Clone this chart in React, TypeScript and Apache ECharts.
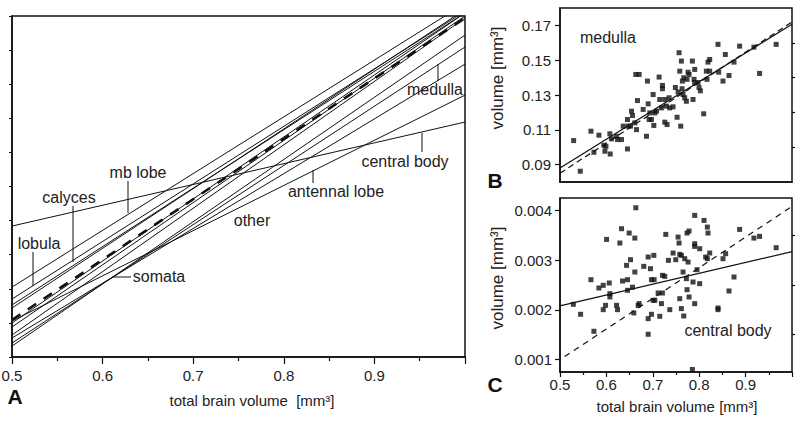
import React, { useEffect, useRef } from 'react';
import * as echarts from 'echarts';

// ---------- Panel A: allometric regression lines (arbitrary log units on y) ----------
const lineX = [0.5, 1.0];
const lineNames = [
  'central body', 'mb lobe', 'lobula', 'calyces', 'region 5', 'region 6',
  'isometry', 'antennal lobe', 'region 9', 'region 10', 'somata', 'medulla', 'other',
];
const lineStart = [3.84, 2.05, 1.7, 1.525, 1.437, 0.997, 1.085, 1.056, 0.88, 0.645, 0.557, 0.41, 0.32];
const lineEnd = [6.89, 10.37, 10.14, 10.09, 10.19, 10.09, 9.94, 7.68, 10.0, 9.94, 8.59, 9.09, 9.44];
const dashedName = 'isometry';

// ---------- Panel B: medulla ----------
const medullaX = [
  0.5294, 0.5437, 0.5667, 0.5731, 0.5839, 0.5946, 0.5968, 0.599, 0.6075, 0.6082,
  0.611, 0.6219, 0.624, 0.6326, 0.6362, 0.6455, 0.647, 0.6455, 0.6541, 0.6563,
  0.652, 0.6613, 0.6634, 0.6706, 0.667, 0.6649, 0.6792, 0.6864, 0.6885, 0.69,
  0.6921, 0.6935, 0.6971, 0.7007, 0.7022, 0.7043, 0.7079, 0.7136, 0.715, 0.7208,
  0.7208, 0.7186, 0.7258, 0.7258, 0.7308, 0.7294, 0.7366, 0.7351, 0.7437, 0.7487,
  0.7523, 0.7545, 0.7566, 0.7581, 0.7602, 0.7616, 0.7631, 0.7638, 0.7652, 0.7667,
  0.7688, 0.7724, 0.7738, 0.776, 0.7781, 0.7853, 0.7867, 0.7889, 0.7903, 0.7903,
  0.7975, 0.7996, 0.8025, 0.8097, 0.8154, 0.8168, 0.819, 0.8226, 0.8226, 0.8405,
  0.8419, 0.8513, 0.8563, 0.8642, 0.875, 0.8871, 0.9179, 0.9301, 0.9659,
];
const medullaY = [
  0.1038, 0.0862, 0.1092, 0.0971, 0.1069, 0.1011, 0.0977, 0.1005, 0.1077, 0.0961,
  0.1048, 0.1063, 0.1044, 0.1044, 0.1121, 0.099, 0.1121, 0.1159, 0.1207, 0.1182,
  0.1121, 0.114, 0.1418, 0.1418, 0.1268, 0.1101, 0.1217, 0.1063, 0.138, 0.1249,
  0.1159, 0.1197, 0.1159, 0.1303, 0.1125, 0.1197, 0.1207, 0.1403, 0.1274, 0.1355,
  0.1336, 0.1226, 0.1274, 0.1144, 0.113, 0.1236, 0.1226, 0.1284, 0.1232, 0.1343,
  0.1172, 0.1317, 0.1543, 0.1437, 0.1121, 0.1495, 0.1336, 0.138, 0.1303, 0.1399,
  0.1284, 0.1264, 0.139, 0.1431, 0.1418, 0.1495, 0.1274, 0.139, 0.1447, 0.1372,
  0.1372, 0.1343, 0.1324, 0.1192, 0.1437, 0.139, 0.1489, 0.1504, 0.1437, 0.1591,
  0.1431, 0.138, 0.1533, 0.1412, 0.1489, 0.1581, 0.1575, 0.1424, 0.1591,
];
const medullaFitX = [0.5, 1.0];
const medullaFitY = [0.088, 0.1707];
const medullaIsoX = [0.5, 1.0];
const medullaIsoY = [0.085, 0.172];

// ---------- Panel C: central body ----------
const cbX = [
  0.5287, 0.5444, 0.5667, 0.5731, 0.5839, 0.5932, 0.5932, 0.5982, 0.6004, 0.6061,
  0.6075, 0.6075, 0.6219, 0.624, 0.629, 0.6326, 0.6348, 0.6434, 0.6455, 0.6455,
  0.652, 0.6563, 0.6491, 0.6591, 0.6613, 0.6613, 0.6634, 0.6685, 0.6706, 0.6806,
  0.69, 0.69, 0.69, 0.695, 0.6971, 0.6971, 0.7007, 0.7022, 0.7029, 0.7043,
  0.7115, 0.715, 0.7186, 0.7208, 0.7208, 0.728, 0.7258, 0.7337, 0.7366, 0.7437,
  0.7495, 0.7545, 0.7566, 0.7581, 0.7581, 0.7616, 0.7616, 0.7652, 0.7667, 0.7688,
  0.7724, 0.7738, 0.7738, 0.7781, 0.776, 0.7781, 0.7867, 0.7853, 0.7903, 0.7903,
  0.7903, 0.7903, 0.7953, 0.801, 0.801, 0.8104, 0.814, 0.8176, 0.819, 0.8176,
  0.8226, 0.8405, 0.8405, 0.8513, 0.857, 0.8642, 0.875, 0.8871, 0.9179, 0.9301,
  0.9659,
];
const cbY = [
  0.002112, 0.001911, 0.002607, 0.001569, 0.00244, 0.002493, 0.002004, 0.002091, 0.003417, 0.00254,
  0.002326, 0.002259, 0.002091, 0.002004, 0.003344, 0.003632, 0.00258, 0.002895, 0.002607, 0.002393,
  0.003009, 0.002456, 0.003545, 0.001938, 0.002761, 0.003444, 0.004054, 0.002091, 0.002125, 0.002875,
  0.003063, 0.001824, 0.001509, 0.002828, 0.002607, 0.001911, 0.002192, 0.003096, 0.002607, 0.002192,
  0.002339, 0.00187, 0.002125, 0.002694, 0.002339, 0.003518, 0.002674, 0.002996, 0.002004, 0.003143,
  0.003009, 0.003464, 0.003344, 0.003116, 0.002225, 0.002025, 0.003096, 0.002761, 0.001877, 0.003029,
  0.002627, 0.002406, 0.003545, 0.003585, 0.002962, 0.002259, 0.00256, 0.0008, 0.002125, 0.0039,
  0.003277, 0.00333, 0.002808, 0.002527, 0.00323, 0.003799, 0.003063, 0.003665, 0.003545, 0.003029,
  0.003143, 0.002038, 0.002004, 0.003029, 0.00313, 0.00238, 0.002661, 0.003618, 0.003444, 0.003478,
  0.00325,
];
const cbFitX = [0.5, 1.0];
const cbFitY = [0.00208, 0.00317];
const cbIsoX = [0.51, 1.0];
const cbIsoY = [0.00106, 0.00408];

// ---------- ticks ----------
const bMajor = [0.09, 0.11, 0.13, 0.15, 0.17];
const bMinor = [0.1, 0.12, 0.14, 0.16];
const cMajor = [0.001, 0.002, 0.003, 0.004];
const cMinor = [0.0015, 0.0025, 0.0035];

const FONT = '"Liberation Sans", Arial, Helvetica, sans-serif';
const INK = '#111';
const TXT = '#222';

const zip = (xs: number[], ys: number[]) => xs.map((x, i) => [x, ys[i]]);

export default function App() {
  const ref = useRef<HTMLDivElement>(null);
  useEffect(() => {
    if (!ref.current) return;
    const chart = echarts.init(ref.current, undefined, { renderer: 'svg' });

    const axisLine = { show: true, onZero: false, lineStyle: { color: INK, width: 1.5 } };
    const xCommon = {
      type: 'value', min: 0.5, max: 1.0, interval: 0.1,
      axisLine, splitLine: { show: false }, minorSplitLine: { show: false },
    };

    const lineSeries = lineNames.map((name, i) => ({
      name, type: 'line', xAxisIndex: 0, yAxisIndex: 0, symbol: 'none', silent: true,
      data: zip(lineX, [lineStart[i], lineEnd[i]]),
      lineStyle: name === dashedName
        ? { color: INK, width: 2.6, type: [10, 9] }
        : { color: INK, width: 1 },
      z: name === dashedName ? 3 : 2,
    }));

    const gridBase = { show: true, borderColor: INK, borderWidth: 1.5, backgroundColor: 'transparent', containLabel: false, outerBoundsMode: 'none' };

    const option: any = {
      animation: false,
      backgroundColor: '#fff',
      textStyle: { fontFamily: FONT },
      grid: [
        { ...gridBase, left: 12, top: 16, width: 453, height: 341 },
        { ...gridBase, left: 560, top: 8, width: 232, height: 174 },
        { ...gridBase, left: 560, top: 198, width: 232, height: 174 },
      ],
      xAxis: [
        {
          ...xCommon, gridIndex: 0,
          axisTick: { show: true, length: 7, lineStyle: { color: INK, width: 1.2 } },
          minorTick: { show: true, splitNumber: 2, length: 4, lineStyle: { color: INK, width: 1.2 } },
          axisLabel: {
            fontSize: 15, color: TXT, fontFamily: FONT, margin: 11,
            formatter: (v: number) => (v > 0.95 ? '' : v.toFixed(1)),
          },
        },
        {
          ...xCommon, gridIndex: 1,
          axisTick: { show: false }, axisLabel: { show: false },
        },
        {
          ...xCommon, gridIndex: 2,
          axisTick: { show: true, length: 5, lineStyle: { color: INK, width: 1.2 } },
          minorTick: { show: true, splitNumber: 2, length: 3, lineStyle: { color: INK, width: 1.2 } },
          axisLabel: {
            fontSize: 15, color: TXT, fontFamily: FONT, margin: 5,
            formatter: (v: number) => (v > 0.95 ? '' : v.toFixed(1)),
          },
        },
      ],
      yAxis: [
        {
          type: 'value', gridIndex: 0, min: 0, max: 10, interval: 1, axisLine,
          axisTick: { show: true, length: 3, lineStyle: { color: INK } },
          axisLabel: { show: false }, splitLine: { show: false },
        },
        {
          type: 'value', gridIndex: 1, min: 0.08, max: 0.18, axisLine,
          axisTick: { show: true, length: 5, customValues: bMajor, lineStyle: { color: INK, width: 1.2 } },
          axisLabel: {
            customValues: bMajor, fontSize: 15, color: TXT, fontFamily: FONT, margin: 9,
            formatter: (v: number) => v.toFixed(2),
          },
          splitLine: { show: false },
        },
        {
          type: 'value', gridIndex: 2, min: 0.00075, max: 0.00425, axisLine,
          axisTick: { show: true, length: 5, customValues: cMajor, lineStyle: { color: INK, width: 1.2 } },
          axisLabel: {
            customValues: cMajor, fontSize: 15, color: TXT, fontFamily: FONT, margin: 8,
            formatter: (v: number) => v.toFixed(3),
          },
          splitLine: { show: false },
        },
        {
          type: 'value', gridIndex: 1, min: 0.08, max: 0.18,
          axisLine: { show: false },
          axisTick: { show: true, length: 3, customValues: bMinor, lineStyle: { color: INK, width: 1.2 } },
          axisLabel: { show: false }, splitLine: { show: false },
        },
        {
          type: 'value', gridIndex: 2, min: 0.00075, max: 0.00425,
          axisLine: { show: false },
          axisTick: { show: true, length: 3, customValues: cMinor, lineStyle: { color: INK, width: 1.2 } },
          axisLabel: { show: false }, splitLine: { show: false },
        },
      ],
      series: [
        ...lineSeries,
        {
          name: 'medulla', type: 'scatter', xAxisIndex: 1, yAxisIndex: 1,
          symbol: 'rect', symbolSize: 5, itemStyle: { color: INK }, silent: true,
          data: zip(medullaX, medullaY),
        },
        {
          name: 'medulla fit', type: 'line', xAxisIndex: 1, yAxisIndex: 1, symbol: 'none', silent: true,
          data: zip(medullaFitX, medullaFitY), lineStyle: { color: INK, width: 1.2 },
        },
        {
          name: 'medulla isometry', type: 'line', xAxisIndex: 1, yAxisIndex: 1, symbol: 'none', silent: true,
          data: zip(medullaIsoX, medullaIsoY), lineStyle: { color: INK, width: 1.2, type: [6, 4] },
        },
        {
          name: 'central body', type: 'scatter', xAxisIndex: 2, yAxisIndex: 2,
          symbol: 'rect', symbolSize: 5, itemStyle: { color: INK }, silent: true,
          data: zip(cbX, cbY),
        },
        {
          name: 'central body fit', type: 'line', xAxisIndex: 2, yAxisIndex: 2, symbol: 'none', silent: true,
          data: zip(cbFitX, cbFitY), lineStyle: { color: INK, width: 1.2 },
        },
        {
          name: 'central body isometry', type: 'line', xAxisIndex: 2, yAxisIndex: 2, symbol: 'none', silent: true,
          data: zip(cbIsoX, cbIsoY), lineStyle: { color: INK, width: 1.2, type: [6, 5] },
        },
      ],
    };

    const txt = (text: string, x: number, y: number, size = 16, extra: any = {}) => ({
      type: 'text', x, y, silent: true, ...extra,
      style: { text, fontSize: size, fontFamily: FONT, fill: TXT, align: 'center', verticalAlign: 'middle', ...(extra.style || {}) },
    });
    const lead = (x1: number, y1: number, x2: number, y2: number) => ({
      type: 'line', silent: true, shape: { x1, y1, x2, y2 }, style: { stroke: INK, lineWidth: 1 },
    });

    option.graphic = [
      // panel A labels
      txt('mb lobe', 138, 172), lead(128, 181, 128, 213),
      txt('calyces', 69, 197), lead(73, 206, 73, 262),
      txt('lobula', 39, 243), lead(33, 252, 33, 286),
      txt('somata', 159, 276), lead(113, 277, 131, 277),
      txt('other', 252, 220),
      txt('antennal lobe', 336, 191), lead(313, 170, 313, 183),
      txt('central body', 405, 161), lead(422, 133, 422, 152),
      txt('medulla', 435, 89), lead(438, 64, 438, 81),
      txt('total brain volume  [mm³]', 252, 400, 15),
      { type: 'text', x: 15, y: 396, silent: true, style: { text: 'A', fontSize: 21, fontWeight: 'bold', fontFamily: FONT, fill: INK, align: 'center', verticalAlign: 'middle' } },
      // panel B
      txt('medulla', 608, 37),
      { type: 'text', x: 497, y: 78, rotation: Math.PI / 2, silent: true, style: { text: 'volume [mm³]', fontSize: 17, fontFamily: FONT, fill: TXT, align: 'center', verticalAlign: 'middle' } },
      { type: 'text', x: 495, y: 180, silent: true, style: { text: 'B', fontSize: 21, fontWeight: 'bold', fontFamily: FONT, fill: INK, align: 'center', verticalAlign: 'middle' } },
      // panel C
      txt('central body', 728, 330),
      { type: 'text', x: 497, y: 278, rotation: Math.PI / 2, silent: true, style: { text: 'volume [mm³]', fontSize: 17, fontFamily: FONT, fill: TXT, align: 'center', verticalAlign: 'middle' } },
      txt('total brain volume [mm³]', 677, 406, 15),
      { type: 'text', x: 495, y: 384, silent: true, style: { text: 'C', fontSize: 21, fontWeight: 'bold', fontFamily: FONT, fill: INK, align: 'center', verticalAlign: 'middle' } },
    ];

    chart.setOption(option);
    return () => chart.dispose();
  }, []);

  return (
    <div
      ref={ref}
      style={{ position: 'absolute', left: 0, top: 0, width: 800, height: 425, background: '#fff' }}
    />
  );
}
